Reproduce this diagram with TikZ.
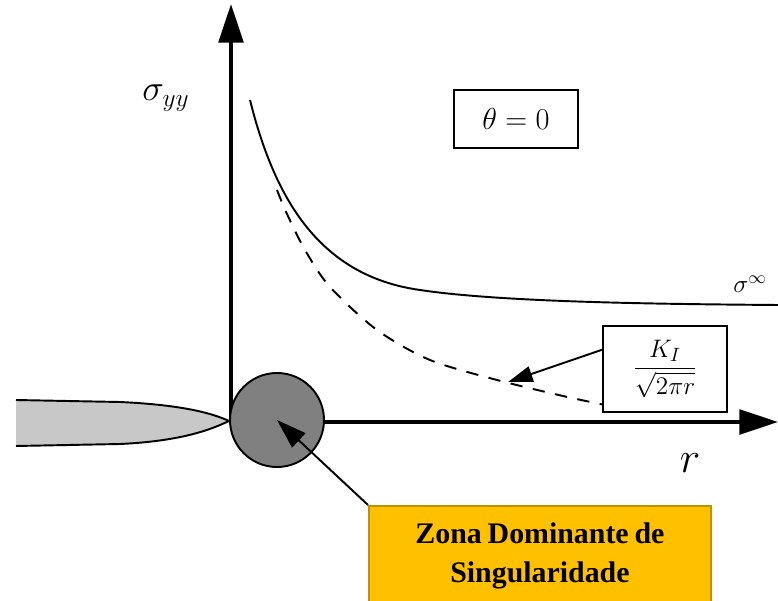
\documentclass[tikz,border=0pt]{standalone}
\usepackage{amsmath}
\usepackage{fontspec}
\setmainfont{Liberation Serif}
\usepackage{xcolor}
\usetikzlibrary{arrows.meta, positioning, calc}
\definecolor{crackgray}{RGB}{200,200,200}
\definecolor{zonegray}{RGB}{128,128,128}
\definecolor{gold}{RGB}{255,192,0}
\definecolor{darkgold}{RGB}{191,144,0}

\begin{document}
\begin{tikzpicture}[x=0.02cm, y=-0.02cm]
  \tikzstyle{axisline} = [line width=2.3pt, -{Triangle[length=22pt, width=14pt]}]
  \tikzstyle{curveline} = [line width=1.1pt]
  \tikzstyle{labelbox} = [rectangle, draw=black, line width=1.1pt, fill=white, inner sep=0pt]
  \tikzstyle{pointer} = [line width=1.1pt, -{Triangle[length=14pt, width=9pt]}]

  \useasboundingbox (0,0) rectangle (778,601);

  \coordinate (origin) at (231,422);
  \coordinate (ytip) at (231,4);
  \coordinate (xtip) at (778,422);

  % crack
  \fill[crackgray] (16,400) -- (120,402) .. controls (185,405) and (214,414) .. (229,421)
    .. controls (214,428) and (185,441) .. (120,444) -- (16,446) -- cycle;
  \draw[curveline] (16,400) -- (120,402) .. controls (185,405) and (214,414) .. (229,421)
    .. controls (214,428) and (185,441) .. (120,444) -- (16,446);

  \draw[axisline] (origin) -- (ytip);
  \draw[axisline] (origin) -- (xtip);

  \node [circle, draw=black, line width=1.1pt, fill=zonegray, minimum size=94*0.02cm, inner sep=0pt] (zone) at (277,420) {};

  \draw[curveline] (250,100) .. controls (275,200) and (320,276) .. (420,290)
    .. controls (500,302) and (650,304) .. (778,305);
  \draw[curveline, dash pattern=on 7pt off 6pt] plot[smooth] coordinates {(277,190) (287,214) (305,250) (330,287) (377,330) (430,360) (497,380) (563,396) (605,405)};

  \node (syy) at (166,98) {\fontsize{20}{24}\selectfont$\sigma_{yy}$};
  \node (sinf) at (750,284) {\fontsize{14}{16}\selectfont$\sigma^{\infty}$};
  \node (rlbl) at (690,463) {\fontsize{32}{36}\selectfont$r$};

  \node [labelbox, minimum width=124*0.02cm, minimum height=58*0.02cm] (thetabox) at (516,119) {\fontsize{17}{20}\selectfont$\theta = 0$};
  \node [labelbox, minimum width=124*0.02cm, minimum height=86*0.02cm] (kbox) at (665,369) {\fontsize{15}{18}\selectfont$\dfrac{K_I}{\sqrt{2\pi r}}$};

  \node [rectangle, draw=darkgold, line width=1.1pt, fill=gold, minimum width=342*0.02cm, minimum height=100*0.02cm, text width=330*0.02cm, align=center, anchor=north west, inner sep=0pt] (dombox) at (368,505) {\fontsize{17}{22}\selectfont\bfseries Zona Dominante de\\ Singularidade\par\vspace{13pt}};

  \draw[pointer] (kbox.163) -- (508,382);
  \draw[pointer, -{Triangle[length=17pt, width=11pt]}] (dombox.north west) -- (zone.center);
\end{tikzpicture}
\end{document}
